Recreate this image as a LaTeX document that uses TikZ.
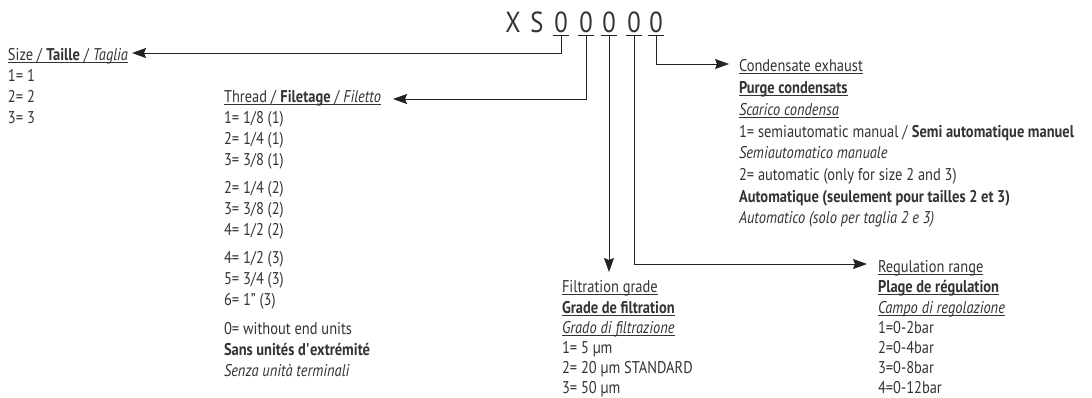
\documentclass[tikz,border=0pt]{standalone}
\usepackage{fontspec}
\setmainfont{PT Sans}[FakeStretch=0.85]
\usetikzlibrary{arrows.meta}
\definecolor{txt}{HTML}{333333}
\definecolor{ln}{HTML}{222222}
\newcommand\ulx[1]{\leavevmode\sbox0{#1}\rlap{\color{txt}\rule[-3.2pt]{\wd0}{0.8pt}}\usebox0}
\begin{document}
\begin{tikzpicture}[x=1pt,y=-1pt,
  every node/.style={inner sep=0pt,outer sep=0pt,text=txt},
  line/.style={anchor=base west,font=\fontsize{17}{21}\selectfont},
  code/.style={anchor=base,font=\fontsize{29}{29}\selectfont},
  arr/.style={draw=ln,line width=1pt,-{Stealth[length=14pt,width=10pt,inset=2pt]}}]
\useasboundingbox (0,0) rectangle (1092,397);
% code letters
\node[code] (cx) at (513,32) {X};
\node[code] (cs) at (537,32) {S};
\foreach \n/\x in {1/561,2/586,3/609,4/634,5/656}{
  \node[code] (d\n) at (\x,32) {0};
  \draw[ln,line width=1pt] (\x-8,35.5) -- (\x+8,35.5);
}
\foreach \n/\x in {1/561,2/586,3/609,4/634,5/656}{
  \coordinate (s\n) at (\x,36);
}
% arrow tips
\coordinate (tSize) at (132,53);
\coordinate (tThread) at (393,99);
\coordinate (tFilt) at (609,272);
\coordinate (tReg) at (867,264);
\coordinate (tCond) at (729,64);
\draw[arr] (s1) |- (tSize);
\draw[arr] (s2) |- (tThread);
\draw[arr] (s3) -- (tFilt);
\draw[arr] (s4) |- (tReg);
\draw[arr] (s5) |- (tCond);
% Size block
\foreach \i/\y/\t in {1/60/{\ulx{Size / \textbf{Taille} / \textit{Taglia}}},2/81/{1= 1},3/102/{2= 2},4/123/{3= 3}}
  \node[line] (size\i) at (8,\y) {\t};
% Thread block
\foreach \i/\y/\t in {1/102/{\ulx{Thread / \textbf{Filetage} / \textit{Filetto}}},
  2/123/{1= 1/8 (1)},3/144/{2= 1/4 (1)},4/165/{3= 3/8 (1)},
  5/193/{2= 1/4 (2)},6/214/{3= 3/8 (2)},7/235/{4= 1/2 (2)},
  8/263/{4= 1/2 (3)},9/284/{5= 3/4 (3)},10/305/{6= 1" (3)},
  11/334/{0= without end units},12/355/{\textbf{Sans unités d\textquotesingle extrémité}},13/376/{\textit{Senza unità terminali}}}
  \node[line] (thr\i) at (224,\y) {\t};
% Condensate block
\foreach \i/\y/\t in {1/71/{\ulx{Condensate exhaust}},2/93/{\ulx{\textbf{Purge condensats}}},3/115/{\ulx{\textit{Scarico condensa}}},
  4/137/{1= semiautomatic manual / \textbf{Semi automatique manuel}},5/158/{\textit{Semiautomatico manuale}},
  6/180/{2= automatic (only for size 2 and 3)},7/202/{\textbf{Automatique (seulement pour tailles 2 et 3)}},8/223/{\textit{Automatico (solo per taglia 2 e 3)}}}
  \node[line] (cond\i) at (739,\y) {\t};
% Filtration block
\foreach \i/\y/\t in {1/292/{\ulx{Filtration grade}},2/313/{\ulx{\textbf{Grade de filtration}}},3/333/{\ulx{\textit{Grado di filtrazione}}},
  4/353/{1= 5 µm},5/373/{2= 20 µm STANDARD},6/393/{3= 50 µm}}
  \node[line] (filt\i) at (562,\y) {\t};
% Regulation block
\foreach \i/\y/\t in {1/272/{\ulx{Regulation range}},2/292/{\ulx{\textbf{Plage de régulation}}},3/313/{\ulx{\textit{Campo di regolazione}}},
  4/333/{1=0-2bar},5/353/{2=0-4bar},6/373/{3=0-8bar},7/393/{4=0-12bar}}
  \node[line] (reg\i) at (878,\y) {\t};
\end{tikzpicture}
\end{document}
